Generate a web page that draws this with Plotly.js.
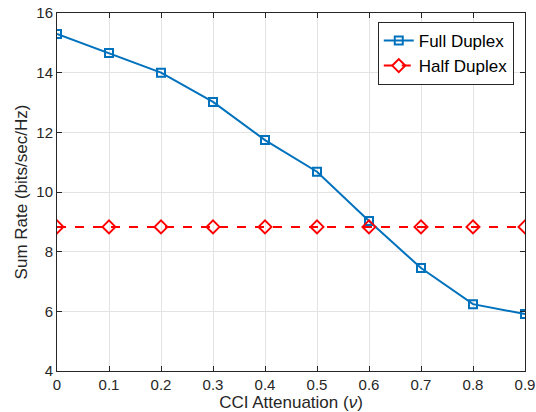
<!DOCTYPE html>
<html><head><meta charset="utf-8">
<script src="https://cdn.plot.ly/plotly-3.0.1.min.js"></script>
<style>body{margin:0;padding:0;background:#fff}#c{width:536px;height:412px}</style>
</head><body><div id="c"></div>
<script>
const attenuation = [0, 0.1, 0.2, 0.3, 0.4, 0.5, 0.6, 0.7, 0.8, 0.9];
const fullDuplex = [15.30, 14.66, 14.00, 13.02, 11.74, 10.68, 9.03, 7.45, 6.24, 5.91];
const halfDuplex = [8.83, 8.83, 8.83, 8.83, 8.83, 8.83, 8.83, 8.83, 8.83, 8.83];
const xTicks = [0, 0.1, 0.2, 0.3, 0.4, 0.5, 0.6, 0.7, 0.8, 0.9];
const yTicks = [4, 6, 8, 10, 12, 14, 16];

const traces = [
  {x: attenuation, y: fullDuplex, name: 'Full Duplex', mode: 'lines+markers',
   line: {color: '#0072BD', width: 2},
   marker: {symbol: 'square-open', size: 8, color: '#0072BD', line: {width: 2, color: '#0072BD'}}},
  {x: attenuation, y: halfDuplex, name: 'Half Duplex', mode: 'lines+markers',
   line: {color: '#FF0000', width: 2, dash: 'dash'},
   marker: {symbol: 'diamond-open', size: 10, color: '#FF0000', line: {width: 2, color: '#FF0000'}}}
];
const axisCommon = {
  showline: true, linecolor: '#262626', linewidth: 1, mirror: 'allticks',
  ticks: 'inside', ticklen: 5, tickcolor: '#262626',
  showgrid: true, gridcolor: '#E3E3E3', gridwidth: 1, zeroline: false,
  tickfont: {family: 'Liberation Sans, Arial, sans-serif', size: 15, color: '#262626'}
};
const layout = {
  width: 536, height: 412,
  margin: {l: 57, r: 11, t: 13, b: 41},
  paper_bgcolor: '#fff', plot_bgcolor: '#fff',
  font: {family: 'Liberation Sans, Arial, sans-serif', color: '#262626'},
  xaxis: Object.assign({}, axisCommon, {range: [0, 0.9], tickvals: xTicks, ticktext: xTicks.map(String),
    title: {text: 'CCI Attenuation (<i>ν</i>)', font: {size: 17, color: '#262626'}, standoff: 2}}),
  yaxis: Object.assign({}, axisCommon, {range: [4, 16], tickvals: yTicks,
    title: {text: 'Sum Rate (bits/sec/Hz)', font: {size: 17, color: '#262626'}, standoff: 4}}),
  showlegend: true,
  legend: {x: 0.976, y: 0.975, xanchor: 'right', yanchor: 'top',
    bgcolor: '#fff', bordercolor: '#262626', borderwidth: 1,
    font: {size: 17, color: '#000'}, tracegroupgap: 0, itemwidth: 30}
};
Plotly.newPlot('c', traces, layout, {staticPlot: true, displayModeBar: false});
</script></body></html>
